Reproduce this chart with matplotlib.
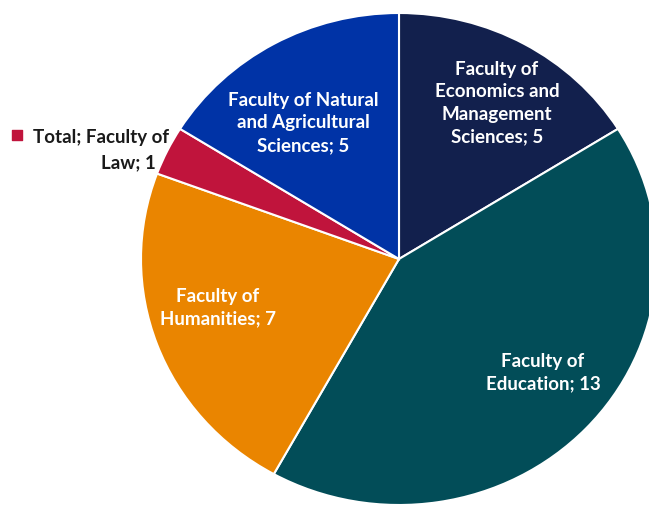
import matplotlib.pyplot as plt

# Staff counts per faculty (clockwise from 12 o'clock)
faculties = [
    "Faculty of Economics and Management Sciences",
    "Faculty of Education",
    "Faculty of Humanities",
    "Faculty of Law",
    "Faculty of Natural and Agricultural Sciences",
]
counts = [5, 13, 7, 1, 5]
colors = ["#12204D", "#024D58", "#EA8500", "#C0143C", "#0033A6"]

label_texts = [
    "Faculty of\nEconomics and\nManagement\nSciences; 5",
    "Faculty of\nEducation; 13",
    "Faculty of\nHumanities; 7",
    "Total; Faculty of\nLaw; 1",
    "Faculty of Natural\nand Agricultural\nSciences; 5",
]

W, H = 649, 506
fig = plt.figure(figsize=(W / 100, H / 100), dpi=100)
ax = fig.add_axes([0, 0, 1, 1])

wedges, _ = ax.pie(counts, colors=colors, startangle=90, counterclock=False,
                   radius=1.0, center=(0, 0),
                   wedgeprops=dict(edgecolor="white", linewidth=1.5))
for w in wedges:
    w.set_zorder(3)

# pixel geometry of the pie on the canvas
cx, cy = 399, 260
rx, ry = 258, 246
ax.set_aspect("auto")
ax.set_xlim(-cx / rx, (W - cx) / rx)
ax.set_ylim(-(H - cy) / ry, cy / ry)
ax.axis("off")

font = dict(family=["Lato", "DejaVu Sans"], fontweight="bold", fontsize=13.5)


def px(x, y):
    return ((x - cx) / rx, (cy - y) / ry)


inside = {0: (497, 103), 1: (543, 373), 2: (218, 308), 4: (303, 123)}
for i, (x, y) in inside.items():
    ax.text(*px(x, y), label_texts[i], color="white", ha="center",
            va="center", linespacing=1.38, zorder=5, **font)

# outside label for the small slice (sits behind the pie), with its colour key
line1, line2 = label_texts[3].split("\n")
ax.text(*px(33, 138), line1, color="#1a1a1a", ha="left", va="center",
        zorder=2, **font)
ax.text(*px(128, 163), line2, color="#1a1a1a", ha="center", va="center",
        zorder=2, **font)
ax.scatter(*px(17, 136), marker="s", s=42, color=colors[3], zorder=2,
           clip_on=False)

fig.savefig("out.png", dpi=100)
